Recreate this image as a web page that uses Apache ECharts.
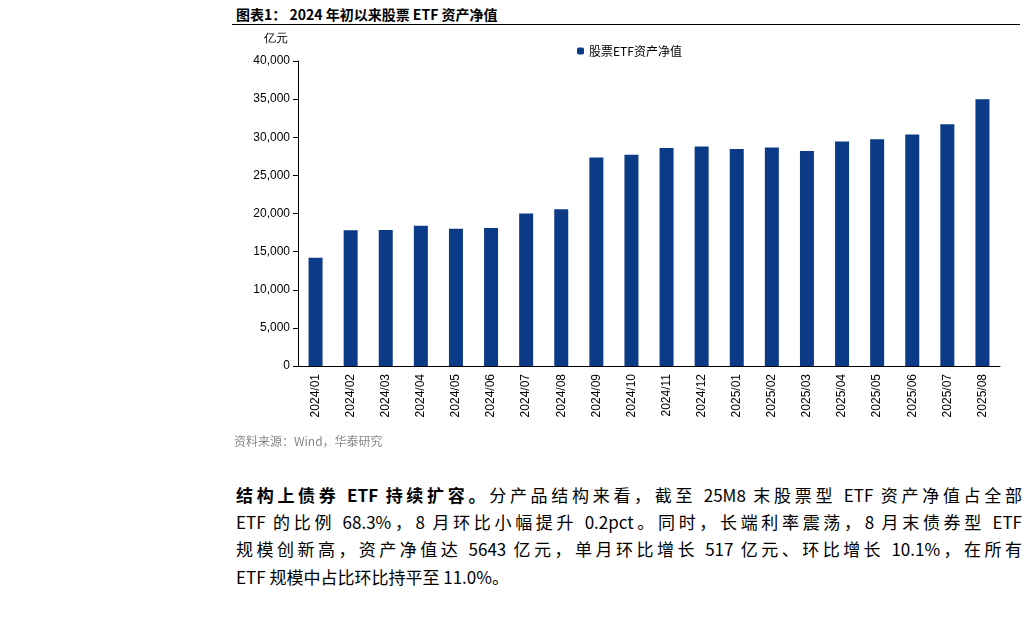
<!DOCTYPE html>
<html><head><meta charset="utf-8">
<script src="https://cdn.jsdelivr.net/npm/echarts@6/dist/echarts.min.js"></script>
<style>
body{margin:0;background:#fff;font-family:"Noto Sans CJK SC",sans-serif;}
#title{position:absolute;left:236px;top:4px;font-size:14px;font-weight:bold;color:#000;}
#line{position:absolute;left:232px;top:24px;width:788px;height:1px;background:#000;}
#chart{position:absolute;left:200px;top:26px;width:828px;height:410px;}
#src{position:absolute;left:234px;top:432px;font-size:12px;color:#888;}
.p{position:absolute;left:236px;width:786px;font-size:17px;color:#000;text-align:justify;text-align-last:justify;white-space:nowrap;}
.bot{position:absolute;top:592px;font-size:12px;color:#000;font-weight:bold;}
</style></head><body>
<div id="title">图表1： 2024 年初以来股票 ETF 资产净值</div>
<div id="line"></div>
<div id="chart"></div>
<div id="src">资料来源：Wind，华泰研究</div>
<div class="p" style="top:482px"><b>结构上债券 ETF 持续扩容。</b>分产品结构来看，截至 25M8 末股票型 ETF 资产净值占全部</div>
<div class="p" style="top:509px">ETF 的比例 68.3%，8 月环比小幅提升 0.2pct。同时，长端利率震荡，8 月末债券型 ETF</div>
<div class="p" style="top:536px">规模创新高，资产净值达 5643 亿元，单月环比增长 517 亿元、环比增长 10.1%，在所有</div>
<div class="p" style="top:564px;text-align-last:left">ETF 规模中占比环比持平至 11.0%。</div>
<script>
const categories=["2024/01","2024/02","2024/03","2024/04","2024/05","2024/06","2024/07","2024/08","2024/09","2024/10","2024/11","2024/12","2025/01","2025/02","2025/03","2025/04","2025/05","2025/06","2025/07","2025/08"];
const values=[14200,17800,17850,18400,18000,18100,20000,20550,27350,27700,28600,28800,28450,28650,28200,29450,29750,30350,31700,35000];
const c=echarts.init(document.getElementById('chart'));
c.setOption({
 animation:false,
 grid:{left:98,right:28,top:35,bottom:70},
 legend:{top:14,left:372,itemWidth:7,itemHeight:7,textStyle:{fontSize:12,color:'#000',fontFamily:'Noto Sans CJK SC'},data:['股票ETF资产净值']},
 xAxis:{type:'category',data:categories,axisLine:{lineStyle:{color:'#000'}},axisTick:{lineStyle:{color:'#000'}},axisLabel:{rotate:90,color:'#000',fontSize:12,fontFamily:'Arial'}},
 yAxis:{type:'value',min:0,max:40000,interval:5000,name:'亿元',nameLocation:'end',nameGap:16,nameTextStyle:{color:'#000',fontSize:12,align:'right',padding:[0,10,0,0]},
  axisLine:{show:true,lineStyle:{color:'#000'}},axisTick:{show:true,lineStyle:{color:'#000'}},splitLine:{show:false},
  axisLabel:{color:'#000',fontSize:12,fontFamily:'Arial',formatter:v=>v.toLocaleString('en-US')}},
 series:[{name:'股票ETF资产净值',type:'bar',data:values,barWidth:14,itemStyle:{color:'#0b3a86'}}]
});
</script>
</body></html>
